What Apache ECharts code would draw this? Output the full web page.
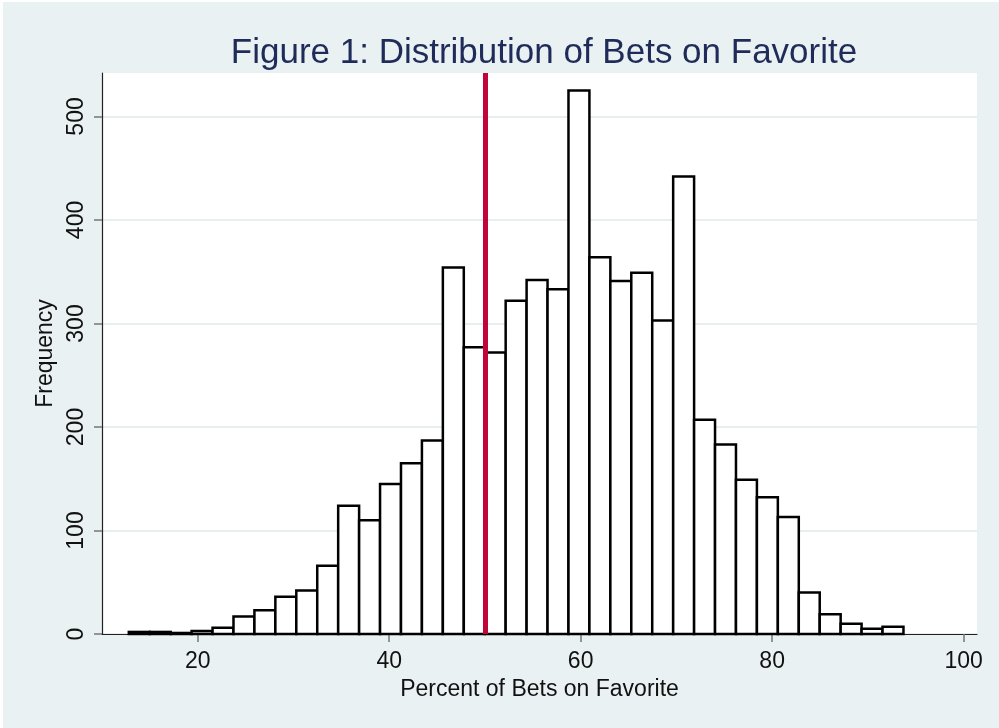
<!DOCTYPE html>
<html>
<head>
<meta charset="utf-8">
<title>Figure 1</title>
<script src="https://cdn.jsdelivr.net/npm/echarts@6/dist/echarts.min.js"></script>
<style>
    html, body { margin: 0; padding: 0; background: #fff; }
    #main { position: absolute; left: 3px; top: 2px; width: 996px; height: 726px; }
</style>
</head>
<body>
<div id="main"></div>
<script>
// histogram bins (percent of bets on favorite)
var binStart = 12.8;
var binWidth = 2.187;
var freq = [2, 2, 1, 3, 6, 17, 23, 36, 42, 66,
    124, 110, 145, 165, 187, 354, 277, 272, 322, 342,
    333, 525, 364, 341, 349, 303, 442, 207, 183, 149,
    132, 113, 40, 19, 10, 5, 7];
var xTicks = [20, 40, 60, 80, 100];
var yTicks = [0, 100, 200, 300, 400, 500];
var refLine = 50;

var chart = echarts.init(document.getElementById('main'));

// bins -> [left, right, count]
var bins = [];
for (var i = 0; i < freq.length; i++) {
    bins.push([binStart + i * binWidth, binStart + (i + 1) * binWidth, freq[i]]);
}

var font = 'Arial, "Liberation Sans", sans-serif';

var option = {
    backgroundColor: '#eaf1f3',
    animation: false,
    title: {
        text: 'Figure 1: Distribution of Bets on Favorite',
        left: 536,
        textAlign: 'center',
        top: 29,
        textStyle: { color: '#1f2c5a', fontSize: 35, fontWeight: 'normal', fontFamily: font }
    },
    grid: {
        left: 99, right: 22, top: 71, bottom: 94,
        show: true, backgroundColor: '#fff', borderWidth: 0
    },
    xAxis: {
        type: 'value',
        min: 10,
        max: 101.4,
        name: 'Percent of Bets on Favorite',
        nameLocation: 'middle',
        nameGap: 44,
        nameTextStyle: { color: '#111', fontSize: 23, fontFamily: font },
        axisLine: { show: true, onZero: false, lineStyle: { color: '#222', width: 1.2 } },
        axisTick: { show: true, length: 8, customValues: xTicks, lineStyle: { color: '#777', width: 1.5 } },
        axisLabel: { customValues: xTicks, margin: 16, color: '#111', fontSize: 23, fontFamily: font },
        splitLine: { show: false }
    },
    yAxis: {
        type: 'value',
        min: 0,
        max: 542,
        name: 'Frequency',
        nameLocation: 'middle',
        nameGap: 43,
        nameRotate: 90,
        nameTextStyle: { color: '#111', fontSize: 23, fontFamily: font },
        axisLine: { show: true, lineStyle: { color: '#222', width: 1.2 } },
        axisTick: { show: true, length: 8, customValues: yTicks, lineStyle: { color: '#777', width: 1.5 } },
        axisLabel: { customValues: yTicks, rotate: 90, margin: 14, color: '#111', fontSize: 23, fontFamily: font },
        splitLine: { show: true, lineStyle: { color: '#e6eef0', width: 2 } }
    },
    series: [{
        type: 'custom',
        data: bins,
        encode: { x: [0, 1], y: 2 },
        renderItem: function (params, api) {
            var p0 = api.coord([api.value(0), api.value(2)]);
            var p1 = api.coord([api.value(1), 0]);
            return {
                type: 'rect',
                shape: { x: p0[0], y: p0[1], width: p1[0] - p0[0], height: p1[1] - p0[1] },
                style: { fill: '#fff', stroke: '#000', lineWidth: 2.5 }
            };
        },
        markLine: {
            silent: true,
            symbol: 'none',
            label: { show: false },
            lineStyle: { color: '#c0053a', width: 5, type: 'solid' },
            data: [{ xAxis: refLine }]
        },
        z: 2
    }]
};

chart.setOption(option);
</script>
</body>
</html>
